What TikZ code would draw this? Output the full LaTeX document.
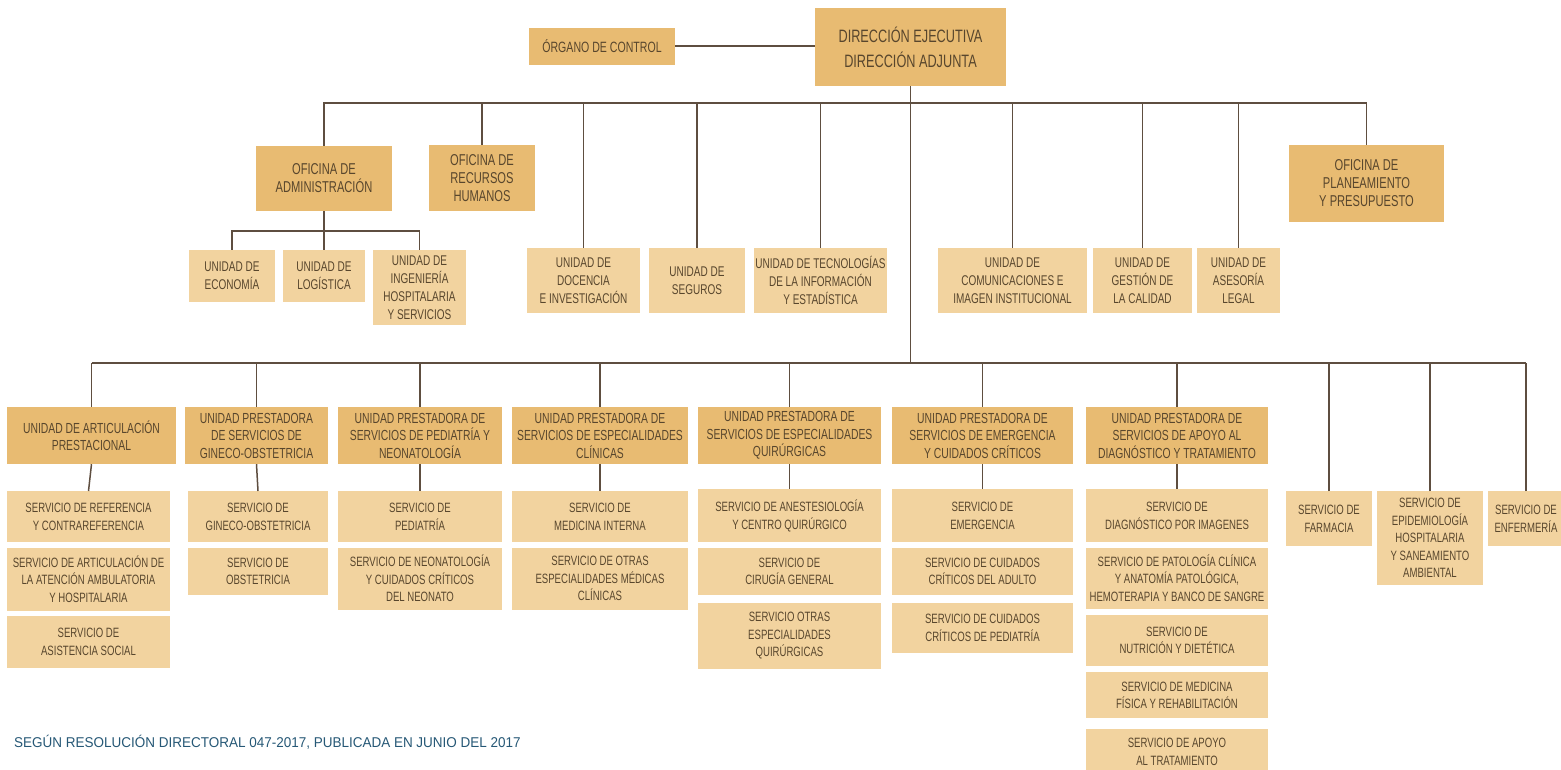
\documentclass[tikz,border=0pt]{standalone}
\usepackage{fontspec}
\setmainfont{Liberation Sans}[FakeStretch=0.71]
\newfontfamily\notefont{Liberation Sans}[FakeStretch=0.95]
\usetikzlibrary{positioning}
\definecolor{boxdark}{RGB}{232,187,114}
\definecolor{boxlight}{RGB}{242,211,159}
\definecolor{inkbrown}{RGB}{88,70,45}
\definecolor{linebrown}{RGB}{94,78,64}
\definecolor{noteblue}{RGB}{38,88,118}
\tikzset{
  box/.style={rectangle, inner sep=0pt, align=center, text=inkbrown},
  wh/.style 2 args={minimum width=#1pt, minimum height=#2pt},
  office/.style={box, fill=boxdark, font=\fontsize{15.7}{18}\selectfont},
  unit/.style={box, fill=boxlight, font=\fontsize{14.1}{18}\selectfont},
  head/.style={box, fill=boxdark, font=\fontsize{14.6}{17.5}\selectfont},
  serv/.style={box, fill=boxlight, font=\fontsize{13.5}{17.5}\selectfont},
  link/.style={draw=linebrown, line width=1.5pt},
}
\begin{document}
\begin{tikzpicture}[x=1pt,y=-1pt]
\useasboundingbox (0,0) rectangle (1561,769);
\fill[white] (0,0) rectangle (1561,769);
\coordinate (busA) at (0,103);
\coordinate (busB) at (0,363);
\coordinate (busC) at (0,231);

\node[office, wh={191}{78}, font=\fontsize{17.9}{25}\selectfont] (direccion) at (910.5,47) {DIRECCIÓN EJECUTIVA\\DIRECCIÓN ADJUNTA};
\node[office, wh={146}{37}, font=\fontsize{14.9}{17}\selectfont] (organo) at (602,46) {ÓRGANO DE CONTROL};
\node[office, wh={136}{65}] (admin) at (324,178.5) {OFICINA DE\\ADMINISTRACIÓN};
\node[office, wh={106}{66}] (rrhh) at (482,178) {OFICINA DE\\RECURSOS\\HUMANOS};
\node[office, wh={155}{77}] (planea) at (1366.5,183.5) {OFICINA DE\\PLANEAMIENTO\\Y PRESUPUESTO};

\node[unit, wh={86}{52}] (economia) at (232,276) {UNIDAD DE\\ECONOMÍA};
\node[unit, wh={82}{52}] (logistica) at (324,276) {UNIDAD DE\\LOGÍSTICA};
\node[unit, wh={93}{75}] (ingenieria) at (419.5,287.5) {UNIDAD DE\\INGENIERÍA\\HOSPITALARIA\\Y SERVICIOS};
\node[unit, wh={113}{65}] (docencia) at (583.5,280.5) {UNIDAD DE\\DOCENCIA\\E INVESTIGACIÓN};
\node[unit, wh={96}{65}] (seguros) at (697,280.5) {UNIDAD DE\\SEGUROS};
\node[unit, wh={133}{65}] (tecno) at (820.5,280.5) {UNIDAD DE TECNOLOGÍAS\\DE LA INFORMACIÓN\\Y ESTADÍSTICA};
\node[unit, wh={149}{65}] (comunic) at (1012.5,280.5) {UNIDAD DE\\COMUNICACIONES E\\IMAGEN INSTITUCIONAL};
\node[unit, wh={99}{65}] (gestion) at (1142.5,280.5) {UNIDAD DE\\GESTIÓN DE\\LA CALIDAD};
\node[unit, wh={83}{65}] (asesoria) at (1238.5,280.5) {UNIDAD DE\\ASESORÍA\\LEGAL};

\node[head, wh={169}{57}] (h1) at (91.5,435.5) {UNIDAD DE ARTICULACIÓN\\PRESTACIONAL};
\node[head, wh={143}{57}] (h2) at (256.5,435.5) {UNIDAD PRESTADORA\\DE SERVICIOS DE\\GINECO-OBSTETRICIA};
\node[head, wh={164}{57}] (h3) at (420,435.5) {UNIDAD PRESTADORA DE\\SERVICIOS DE PEDIATRÍA Y\\NEONATOLOGÍA};
\node[head, wh={176}{57}] (h4) at (600,435.5) {UNIDAD PRESTADORA DE\\SERVICIOS DE ESPECIALIDADES\\CLÍNICAS};
\node[head, wh={183}{57}] (h5) at (789.5,435.5) {UNIDAD PRESTADORA DE\\SERVICIOS DE ESPECIALIDADES\\QUIRÚRGICAS};
\node[head, wh={181}{57}] (h6) at (982.5,435.5) {UNIDAD PRESTADORA DE\\SERVICIOS DE EMERGENCIA\\Y CUIDADOS CRÍTICOS};
\node[head, wh={182}{57}] (h7) at (1177,435.5) {UNIDAD PRESTADORA DE\\SERVICIOS DE APOYO AL\\DIAGNÓSTICO Y TRATAMIENTO};

\node[serv, wh={163}{51}, anchor=north] (s1-1) at (88.5,491) {SERVICIO DE REFERENCIA\\Y CONTRAREFERENCIA};
\node[serv, wh={163}{63}, below=5pt of s1-1] (s1-2) {SERVICIO DE ARTICULACIÓN DE\\LA ATENCIÓN AMBULATORIA\\Y HOSPITALARIA};
\node[serv, wh={163}{52}, below=5pt of s1-2] (s1-3) {SERVICIO DE\\ASISTENCIA SOCIAL};

\node[serv, wh={140}{51}, anchor=north] (s2-1) at (258,491) {SERVICIO DE\\GINECO-OBSTETRICIA};
\node[serv, wh={140}{47}, below=5pt of s2-1] (s2-2) {SERVICIO DE\\OBSTETRICIA};

\node[serv, wh={164}{51}, anchor=north] (s3-1) at (420,491) {SERVICIO DE\\PEDIATRÍA};
\node[serv, wh={164}{62}, below=5pt of s3-1] (s3-2) {SERVICIO DE NEONATOLOGÍA\\Y CUIDADOS CRÍTICOS\\DEL NEONATO};

\node[serv, wh={176}{51}, anchor=north] (s4-1) at (600,491) {SERVICIO DE\\MEDICINA INTERNA};
\node[serv, wh={176}{62}, below=5pt of s4-1] (s4-2) {SERVICIO DE OTRAS\\ESPECIALIDADES MÉDICAS\\CLÍNICAS};

\node[serv, wh={183}{53}, anchor=north] (s5-1) at (789.5,489) {SERVICIO DE ANESTESIOLOGÍA\\Y CENTRO QUIRÚRGICO};
\node[serv, wh={183}{47}, below=5pt of s5-1] (s5-2) {SERVICIO DE\\CIRUGÍA GENERAL};
\node[serv, wh={183}{66}, below=8pt of s5-2] (s5-3) {SERVICIO OTRAS\\ESPECIALIDADES\\QUIRÚRGICAS};

\node[serv, wh={181}{53}, anchor=north] (s6-1) at (982.5,489) {SERVICIO DE\\EMERGENCIA};
\node[serv, wh={181}{47}, below=5pt of s6-1] (s6-2) {SERVICIO DE CUIDADOS\\CRÍTICOS DEL ADULTO};
\node[serv, wh={181}{50}, below=8pt of s6-2] (s6-3) {SERVICIO DE CUIDADOS\\CRÍTICOS DE PEDIATRÍA};

\node[serv, wh={182}{53}, anchor=north] (s7-1) at (1177,489) {SERVICIO DE\\DIAGNÓSTICO POR IMAGENES};
\node[serv, wh={182}{61}, below=5pt of s7-1] (s7-2) {SERVICIO DE PATOLOGÍA CLÍNICA\\Y ANATOMÍA PATOLÓGICA,\\HEMOTERAPIA Y BANCO DE SANGRE};
\node[serv, wh={182}{51}, below=6pt of s7-2] (s7-3) {SERVICIO DE\\NUTRICIÓN Y DIETÉTICA};
\node[serv, wh={182}{46}, below=6pt of s7-3] (s7-4) {SERVICIO DE MEDICINA\\FÍSICA Y REHABILITACIÓN};
\node[serv, wh={182}{46}, below=10pt of s7-4] (s7-5) {SERVICIO DE APOYO\\AL TRATAMIENTO};

\node[serv, wh={86}{55}, anchor=north] (farmacia) at (1329,491) {SERVICIO DE\\FARMACIA};
\node[serv, wh={106}{94}, anchor=north] (epidem) at (1430,491) {SERVICIO DE\\EPIDEMIOLOGÍA\\HOSPITALARIA\\Y SANEAMIENTO\\AMBIENTAL};
\node[serv, wh={76}{55}, anchor=north] (enferm) at (1526,491) {SERVICIO DE\\ENFERMERÍA};

\node[anchor=west, inner sep=0pt, text=noteblue, font=\notefont\fontsize{14.2}{16}\selectfont] (nota) at (14,742) {SEGÚN RESOLUCIÓN DIRECTORAL 047-2017, PUBLICADA EN JUNIO DEL 2017};

\draw[link] (organo.east) -- (organo.east -| direccion.west);
\draw[link] (direccion.south) -- (direccion.south |- busB);
\draw[link] (admin.north) -- (admin.north |- busA) -- (planea.north |- busA) -- (planea.north);
\foreach \n in {rrhh,docencia,seguros,tecno,comunic,gestion,asesoria}
  \draw[link] (\n.north) -- (\n.north |- busA);
\draw[link] (admin.south) -- (admin.south |- busC);
\draw[link] (economia.north) -- (economia.north |- busC) -- (ingenieria.north |- busC) -- (ingenieria.north);
\draw[link] (logistica.north) -- (logistica.north |- busC);
\draw[link] (h1.north |- busB) -- (enferm.north |- busB);
\foreach \n in {h1,h2,h3,h4,h5,h6,h7,farmacia,epidem,enferm}
  \draw[link] (\n.north) -- (\n.north |- busB);
\foreach \c in {1,...,7}
  \draw[link] (h\c.south) -- (s\c-1.north);
\end{tikzpicture}
\end{document}
